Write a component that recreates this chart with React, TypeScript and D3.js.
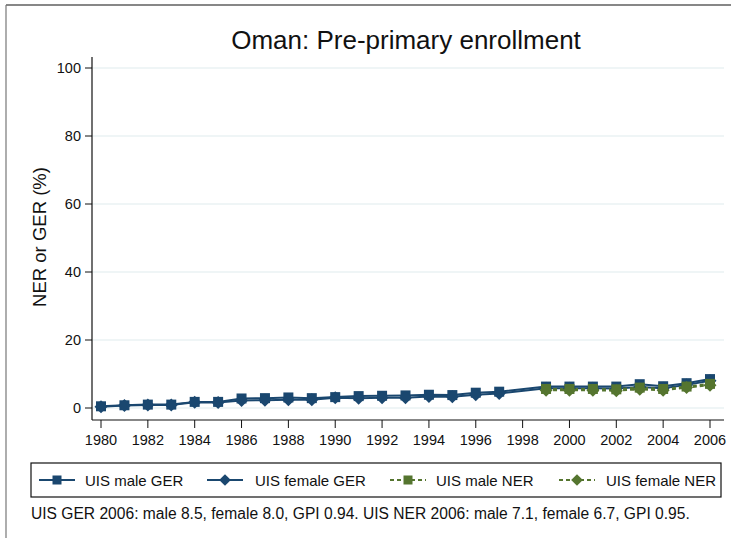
import React from "react";
import * as d3 from "d3";

const years = d3.range(1980, 2007);
const maleGER: (number | null)[] = [0.5, 0.8, 1.0, 1.0, 1.8, 1.8, 2.8, 2.9, 3.1, 2.9, 3.2, 3.5, 3.6, 3.7, 3.9, 3.8, 4.5, 4.8, null, 6.3, 6.3, 6.3, 6.3, 7.0, 6.4, 7.3, 8.5];
const femaleGER: (number | null)[] = [0.4, 0.7, 0.9, 0.9, 1.7, 1.6, 2.2, 2.3, 2.4, 2.4, 3.0, 2.9, 3.0, 3.0, 3.4, 3.3, 3.9, 4.3, null, 5.8, 5.8, 5.8, 5.7, 6.2, 5.8, 6.8, 8.0];
const maleNER: (number | null)[] = [null, null, null, null, null, null, null, null, null, null, null, null, null, null, null, null, null, null, null, 5.6, 5.6, 5.6, 5.5, 6.0, 5.6, 6.3, 7.1];
const femaleNER: (number | null)[] = [null, null, null, null, null, null, null, null, null, null, null, null, null, null, null, null, null, null, null, 5.2, 5.2, 5.2, 5.1, 5.5, 5.2, 6.0, 6.7];
const yTicks = [0, 20, 40, 60, 80, 100];
const xTicks = d3.range(1980, 2007, 2);
const legendLabels = ["UIS male GER", "UIS female GER", "UIS male NER", "UIS female NER"];

const NAVY = "#1a476f";
const GREEN = "#55752f";
const FONT = "Liberation Sans, Arial, sans-serif";

type Series = { values: (number | null)[]; color: string; marker: "square" | "diamond"; dashed: boolean };
const series: Series[] = [
  { values: maleGER, color: NAVY, marker: "square", dashed: false },
  { values: femaleGER, color: NAVY, marker: "diamond", dashed: false },
  { values: maleNER, color: GREEN, marker: "square", dashed: true },
  { values: femaleNER, color: GREEN, marker: "diamond", dashed: true },
];

function Marker({ x, y, type, color, s = 1 }: { x: number; y: number; type: string; color: string; s?: number }) {
  if (type === "square") {
    const h = 5 * s;
    return <rect x={x - h} y={y - h} width={2 * h} height={2 * h} fill={color} />;
  }
  const h = 6.5 * s;
  return <path d={`M${x},${y - h}L${x + h},${y}L${x},${y + h}L${x - h},${y}Z`} fill={color} />;
}

export default function App() {
  const x = d3.scaleLinear().domain([1980, 2006]).range([101, 710]);
  const y = d3.scaleLinear().domain([0, 100]).range([408, 68]);
  const plotLeft = 92;
  const plotRight = 724;

  const lineGen = d3
    .line<[number, number | null]>()
    .x((d) => x(d[0]))
    .y((d) => y(d[1] as number));

  // connect across missing years
  const pathFor = (vals: (number | null)[]) => {
    const pts = years.map((yr, i) => [yr, vals[i]] as [number, number | null]).filter((d) => d[1] !== null);
    return lineGen(pts) || "";
  };

  const legendItems = [
    { lx: 39, tx: 85 },
    { lx: 207, tx: 255 },
    { lx: 390, tx: 436 },
    { lx: 559, tx: 606 },
  ];

  return (
    <svg width={731} height={538} style={{ position: "absolute", top: 0, left: 0, background: "#fff" }} fontFamily={FONT}>
      <rect x={0} y={0} width={731} height={538} fill="#fff" />
      <line x1={6} y1={5} x2={731} y2={5} stroke="#111" strokeWidth={1.2} />
      <line x1={6} y1={5} x2={6} y2={538} stroke="#777" strokeWidth={1.2} />

      <text x={406} y={49} textAnchor="middle" fontSize={26} fill="#111">Oman: Pre-primary enrollment</text>

      {yTicks.map((t) => (
        <g key={t}>
          <line x1={plotLeft} x2={plotRight} y1={y(t)} y2={y(t)} stroke="#eaf2f3" strokeWidth={1.5} />
          <line x1={85} x2={plotLeft} y1={y(t)} y2={y(t)} stroke="#111" strokeWidth={1} />
          <text x={81} y={y(t) + 5} textAnchor="end" fontSize={14.5} fill="#111">{t}</text>
        </g>
      ))}
      <line x1={plotLeft} x2={plotLeft} y1={57} y2={420} stroke="#111" strokeWidth={1.2} />
      <line x1={plotLeft} x2={plotRight} y1={420} y2={420} stroke="#111" strokeWidth={1.2} />
      {xTicks.map((t) => (
        <g key={t}>
          <line x1={x(t)} x2={x(t)} y1={420} y2={428} stroke="#111" strokeWidth={1} />
          <text x={x(t)} y={445} textAnchor="middle" fontSize={14.5} fill="#111">{t}</text>
        </g>
      ))}
      <text transform={`translate(46,237) rotate(-90)`} textAnchor="middle" fontSize={18.5} fill="#111">NER or GER (%)</text>

      {series.map((s, i) => (
        <path key={"l" + i} d={pathFor(s.values)} fill="none" stroke={s.color} strokeWidth={2} strokeDasharray={s.dashed ? "4,3" : undefined} />
      ))}
      {series.map((s, i) =>
        years.map((yr, j) =>
          s.values[j] === null ? null : (
            <Marker key={`m${i}-${j}`} x={x(yr)} y={y(s.values[j] as number)} type={s.marker} color={s.color} />
          )
        )
      )}

      <rect x={31} y={463} width={690} height={34} fill="none" stroke="#111" strokeWidth={1.2} />
      {series.map((s, i) => {
        const it = legendItems[i];
        const cy = 480;
        return (
          <g key={"lg" + i}>
            <line x1={it.lx} x2={it.lx + 36} y1={cy} y2={cy} stroke={s.color} strokeWidth={2} strokeDasharray={s.dashed ? "4,3" : undefined} />
            <Marker x={it.lx + 18} y={cy} type={s.marker} color={s.color} s={0.9} />
            <text x={it.tx} y={cy + 5.5} fontSize={15} fill="#111">{legendLabels[i]}</text>
          </g>
        );
      })}
      <text x={31} y={519} fontSize={15.6} fill="#111">UIS GER 2006: male 8.5, female 8.0, GPI 0.94. UIS NER 2006: male 7.1, female 6.7, GPI 0.95.</text>
    </svg>
  );
}
